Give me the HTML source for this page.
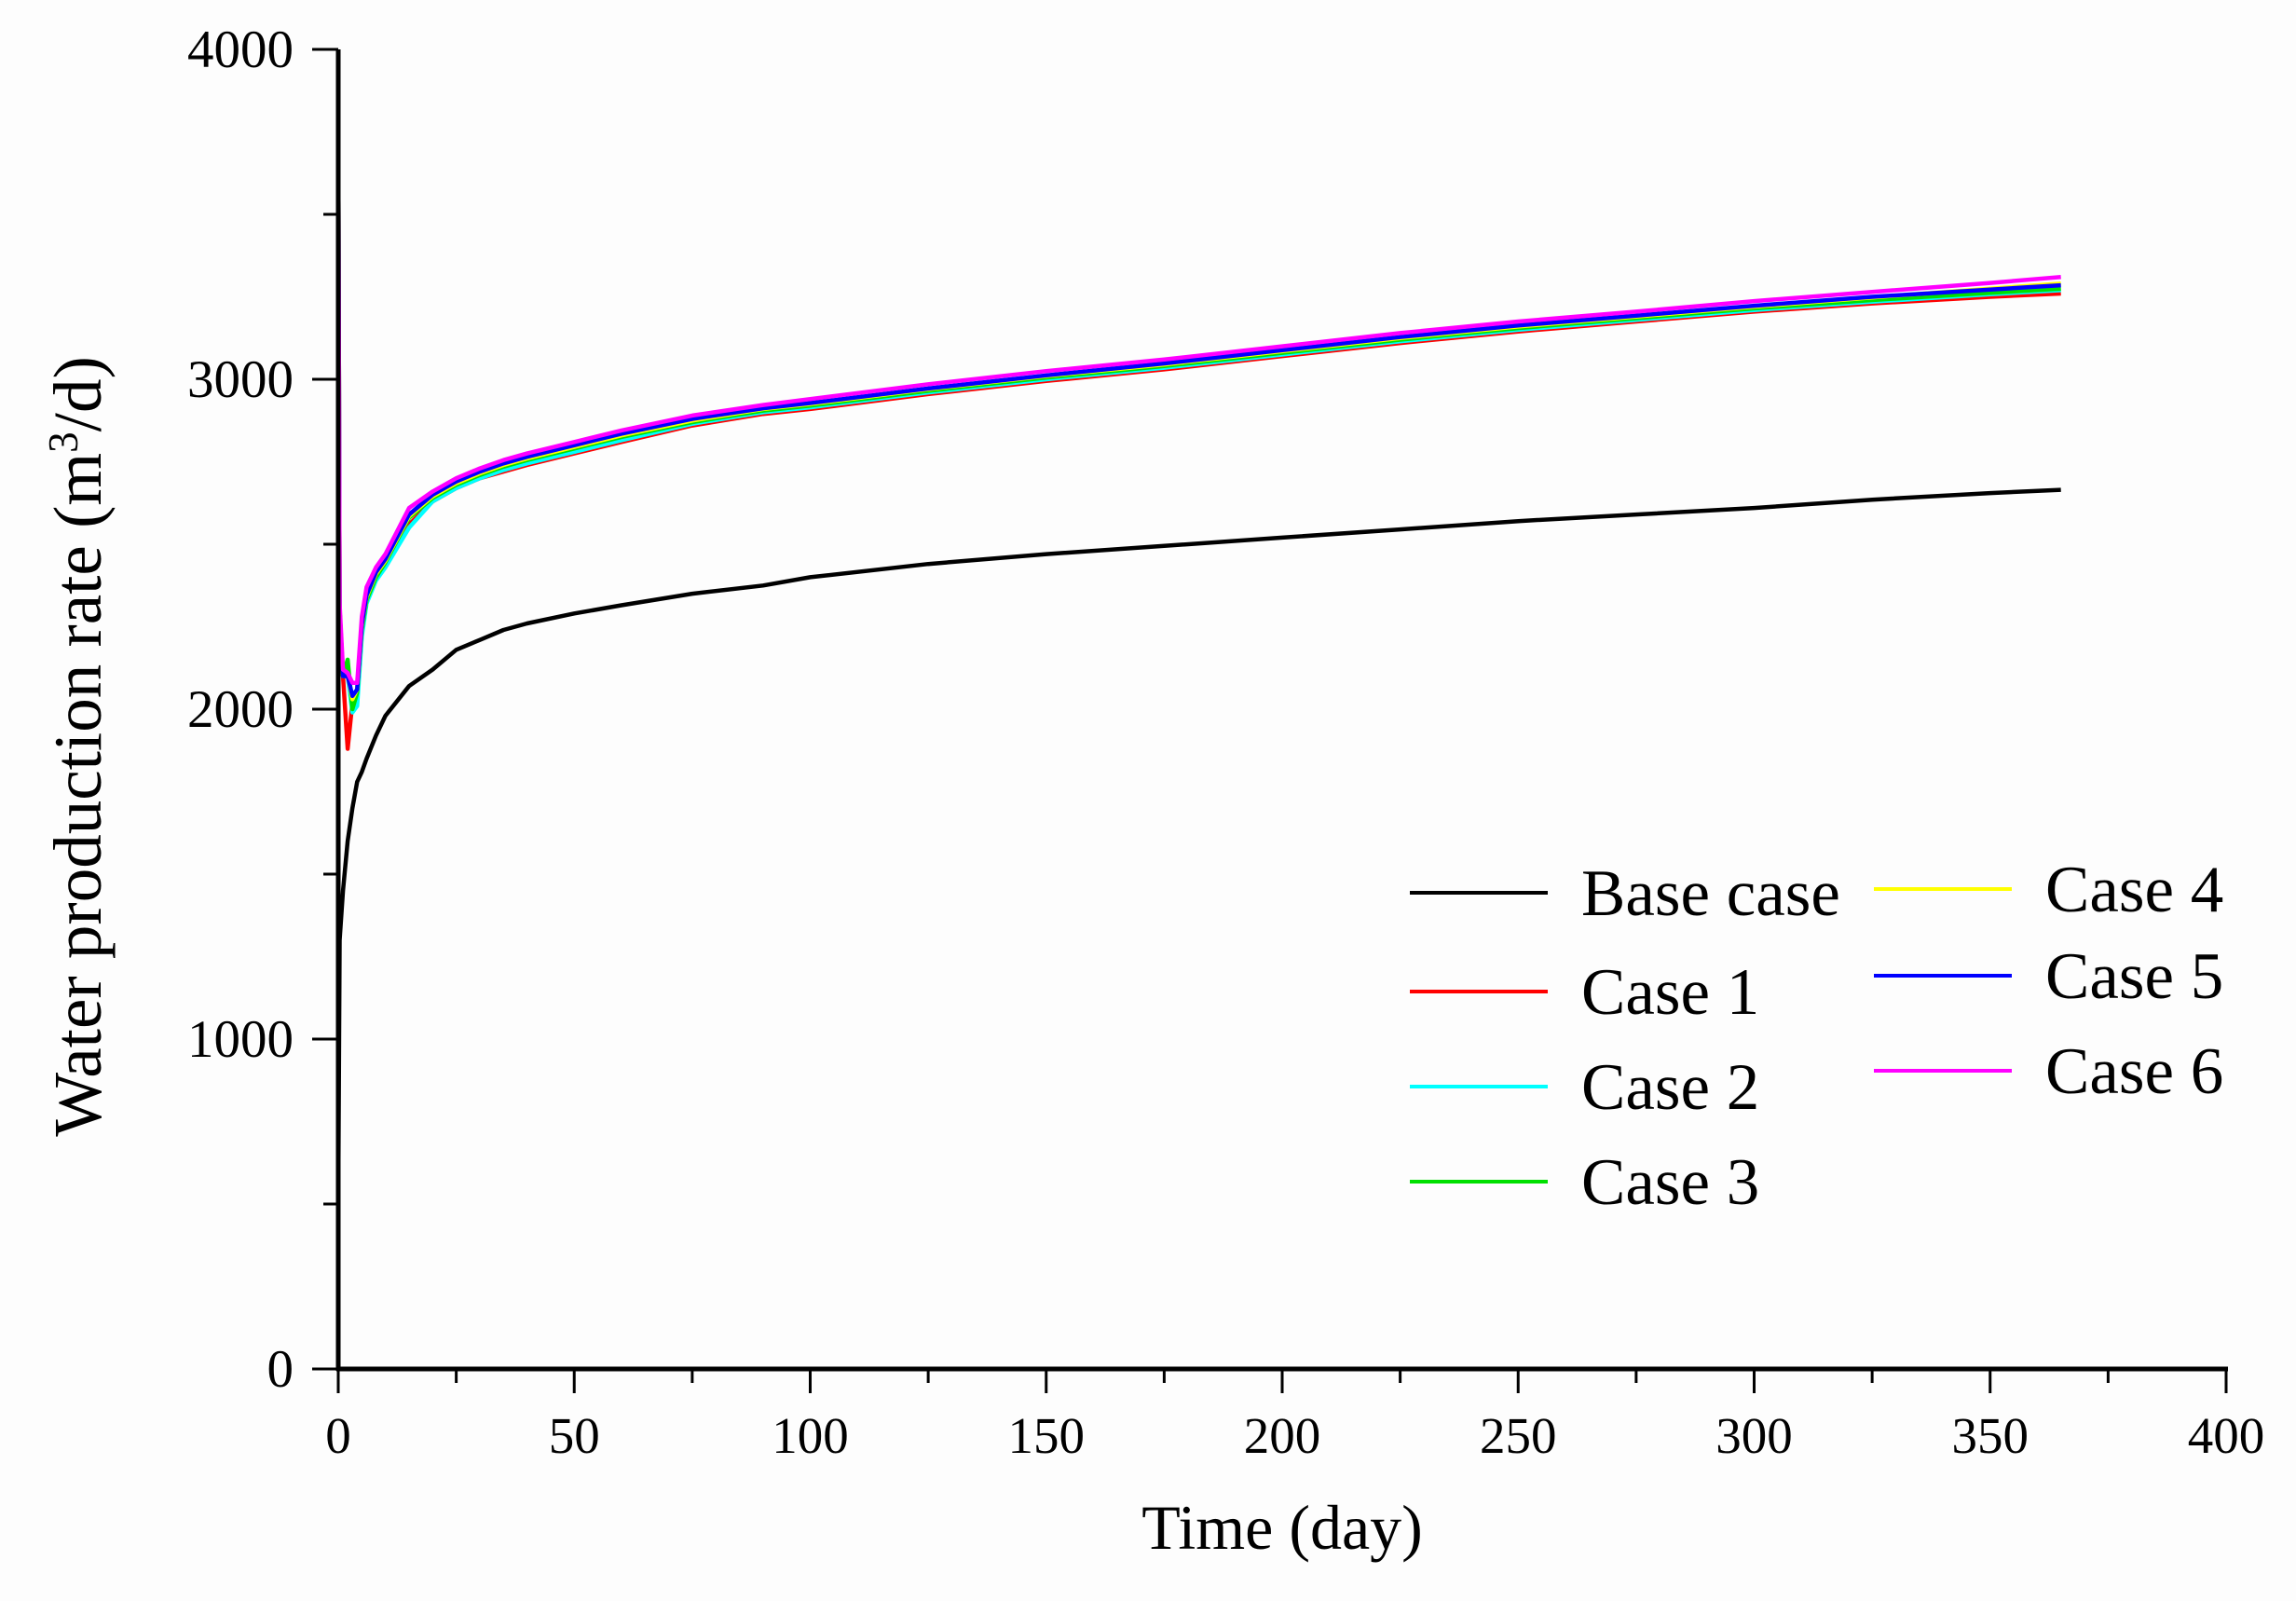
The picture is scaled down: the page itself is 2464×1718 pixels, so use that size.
<!DOCTYPE html>
<html><head><meta charset="utf-8"><style>
html,body{margin:0;padding:0;background:#fdfdfd;}
svg{display:block;}
text{font-family:"Liberation Serif",serif;fill:#000;}
</style></head><body>
<svg id="chart" width="2464" height="1718" viewBox="0 0 2464 1718"></svg>
<script>
const timeDays=[0,0.3,1,2,3,4,5,6,8,10,15,20,25,30,35,40,50,60,75,90,100,125,150,175,200,225,250,275,300,325,350,365];
const baseCase=[500,1300,1450,1600,1700,1780,1810,1850,1920,1980,2070,2120,2180,2210,2240,2260,2290,2315,2350,2375,2400,2440,2470,2495,2520,2545,2570,2590,2610,2635,2655,2665];
const case1=[3800,2300,2100,1880,2020,2060,2240,2330,2400,2440,2560,2630,2670,2700,2720,2740,2775,2810,2860,2895,2910,2955,2995,3030,3070,3110,3145,3175,3205,3230,3250,3260];
const case2=[3800,2300,2100,2100,1990,2010,2220,2320,2390,2430,2550,2630,2670,2700,2725,2745,2780,2815,2865,2900,2915,2960,3000,3035,3075,3115,3150,3180,3210,3235,3258,3270];
const case3=[3800,2300,2100,2150,2000,2050,2240,2330,2400,2445,2580,2640,2680,2710,2735,2755,2790,2825,2870,2905,2920,2965,3005,3040,3080,3120,3155,3185,3215,3240,3262,3275];
const case4=[3800,2300,2100,2100,2030,2060,2250,2340,2410,2450,2585,2645,2685,2715,2740,2760,2795,2830,2875,2910,2925,2970,3010,3045,3085,3125,3160,3190,3220,3248,3275,3290];
const case5=[3800,2300,2100,2100,2040,2060,2255,2345,2415,2455,2590,2650,2690,2720,2745,2765,2800,2835,2880,2912,2928,2972,3012,3048,3088,3128,3163,3193,3223,3250,3272,3285];
const case6=[3800,2320,2120,2110,2080,2080,2280,2370,2430,2470,2610,2660,2700,2730,2755,2775,2810,2845,2890,2922,2940,2985,3025,3060,3100,3140,3175,3205,3237,3265,3292,3310];
const seriesNames=["Base case","Case 1","Case 2","Case 3","Case 4","Case 5","Case 6"];
const seriesColors=["#000000","#ff0000","#00ffff","#00e000","#ffff00","#0000ff","#ff00ff"];
const xTicks=[0,50,100,150,200,250,300,350,400];
const yTicks=[0,1000,2000,3000,4000];

const NS="http://www.w3.org/2000/svg";
const svg=document.getElementById('chart');
const X0=363,X1=2389,Y0=1469,Y1=53;
function xs(v){return X0+(v-0)/(400-0)*(X1-X0);}
function ys(v){return Y0-(v-0)/(4000-0)*(Y0-Y1);}
function mk(tag,attrs,parent){const e=document.createElementNS(NS,tag);for(const k in attrs)e.setAttribute(k,attrs[k]);(parent||svg).appendChild(e);return e;}

const plot=mk('g',{});


const allSeries=[baseCase,case1,case2,case3,case4,case5,case6];
const drawOrder=[1,2,3,4,5,6,0];
drawOrder.forEach(i=>{
  const d=allSeries[i].map((v,j)=>(j?'L':'M')+xs(timeDays[j]).toFixed(1)+','+ys(v).toFixed(1)).join(' ');
  const p=mk('path',{d:d,fill:'none',stroke:seriesColors[i],'stroke-width':4.5,'stroke-linejoin':'round'},plot);
  
  
});

const axes=mk('g',{});


const xa=mk('line',{x1:X0-2,y1:Y0,x2:X1+2,y2:Y0,stroke:'#000','stroke-width':5},axes);


const ya=mk('line',{x1:X0,y1:Y0+2,x2:X0,y2:Y1,stroke:'#000','stroke-width':5},axes);


for(let v=0;v<=400;v+=25){
  const major=v%50===0;
  mk('line',{x1:xs(v),y1:Y0,x2:xs(v),y2:Y0+(major?26:15),stroke:'#000','stroke-width':3},axes);
}
for(let v=0;v<=4000;v+=500){
  const major=v%1000===0;
  mk('line',{x1:X0,y1:ys(v),x2:X0-(major?28:16),y2:ys(v),stroke:'#000','stroke-width':3},axes);
}
xTicks.forEach(v=>{
  const t=mk('text',{x:xs(v),y:Y0+90,'text-anchor':'middle','font-size':55},axes);
  t.textContent=v;
  
  
});
yTicks.forEach(v=>{
  const t=mk('text',{x:X0-48,y:ys(v)+19,'text-anchor':'end','font-size':57},axes);
  t.textContent=v;
  
  
});
const xt=mk('text',{x:1376,y:1662,'text-anchor':'middle','font-size':68},axes);
xt.textContent='Time (day)';


const yt=mk('text',{x:0,y:0,'text-anchor':'middle','font-size':73,transform:'translate(108,801) rotate(-90)'},axes);
yt.innerHTML='Water production rate (m<tspan font-size="45" dy="-25">3</tspan><tspan dy="25">/d)</tspan>';



const legend=mk('g',{});


const legPos=[[1513,958],[1513,1064],[1513,1166],[1513,1268],[2011,954],[2011,1047],[2011,1149]];
seriesNames.forEach((n,i)=>{
  const g=mk('g',{},legend);
  
  
  const [lx,ly]=legPos[i];
  mk('line',{x1:lx,y1:ly,x2:lx+148,y2:ly,stroke:seriesColors[i],'stroke-width':4},g);
  const t=mk('text',{x:lx+184,y:ly+24,'font-size':71},g);
  t.textContent=n;
});
</script>
</body></html>
